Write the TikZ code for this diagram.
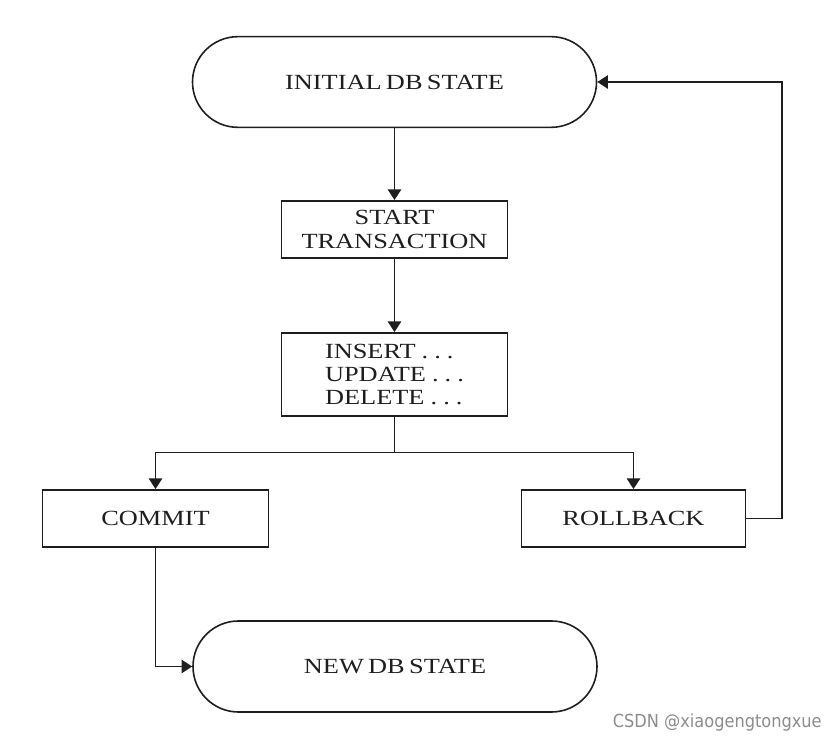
\documentclass[tikz,border=0pt]{standalone}
\usepackage{fontspec}
\setmainfont{Liberation Serif}[FakeStretch=1.22]
\newfontfamily\wmfont{DejaVu Sans Condensed}
\usetikzlibrary{shapes.misc,arrows.meta}
\definecolor{ink}{HTML}{1E1E1E}
\newcommand{\boxfont}{\fontsize{16.2pt}{17.5pt}\selectfont\spaceskip=0.2em plus 0.05em\relax}
\newcommand{\mydots}{\hspace{.28em}.\hspace{.28em}.\hspace{.28em}.}
\tikzset{
  boxnode/.style={draw=ink, line width=1.4pt, rectangle, inner sep=0pt, text=ink,
    font=\boxfont, align=center},
  stadium/.style={draw=ink, line width=1.2pt, rounded rectangle, inner sep=0pt, text=ink,
    font=\boxfont, minimum width=303pt, minimum height=68pt},
  arr/.style={draw=ink, line width=1.4pt, -{Triangle[width=10pt,length=8pt]}},
  wire/.style={draw=ink, line width=1.4pt}
}
\begin{document}
\begin{tikzpicture}[x=0.75pt,y=-0.75pt]
\useasboundingbox (0,0) rectangle (840,741);
\node[stadium] (top) at (394.5,82) {INITIAL DB STATE};
\node[boxnode, minimum width=169.5pt, minimum height=42.75pt] (start) at (394.5,229.5) {START\\TRANSACTION};
\node[boxnode, minimum width=169.5pt, minimum height=62.25pt, align=left] (ins) at (394.5,374.5) {INSERT\mydots\\UPDATE\mydots\\DELETE\mydots};
\node[boxnode, minimum width=169.5pt, minimum height=42.75pt] (commit) at (155.5,518.5) {COMMIT};
\node[boxnode, minimum width=168pt, minimum height=42.75pt] (rollback) at (633.5,518.5) {ROLLBACK};
\node[stadium, minimum height=68.25pt] (new) at (395,666.5) {NEW DB STATE};
\coordinate (split) at (394.5,452.5);
\coordinate (rbx) at (782,82);
\draw[arr] (top.south) -- (start.north);
\draw[arr] (start.south) -- (ins.north);
\draw[wire] (ins.south) -- (split);
\draw[arr] (split) -| (commit.north);
\draw[arr] (split) -| (rollback.north);
\draw[arr] (rollback.east) -| (rbx) -- (top.east);
\draw[arr] (commit.south) |- (new.west);
\node[anchor=base east, text=black!45, font=\wmfont\fontsize{13.5pt}{15pt}\selectfont, inner sep=0pt] (wm) at (822,728) {CSDN @xiaogengtongxue};
\end{tikzpicture}
\end{document}
